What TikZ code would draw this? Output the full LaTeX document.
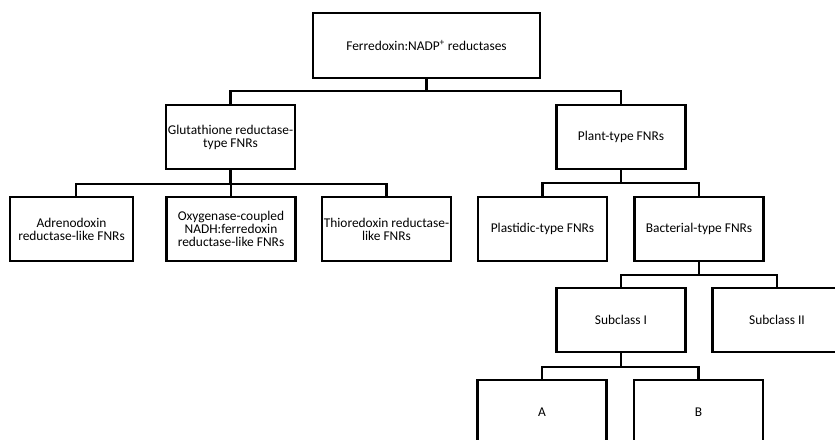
\documentclass[tikz,border=0pt]{standalone}
\usepackage{fontspec}
\setmainfont{Carlito}
\usetikzlibrary{calc}
\begin{document}
\begin{tikzpicture}[x=1pt,y=-1pt,
  box/.style={draw, line width=2.3pt, minimum width=129pt, minimum height=64pt,
    align=center, inner sep=0pt, font=\fontsize{13.4}{13}\selectfont},
  conn/.style={line width=2.3pt}]
\useasboundingbox (0,0) rectangle (835,439);
\clip (0,0) rectangle (835,439);
\node[box, minimum width=227pt, minimum height=65pt] (top) at (426.5,45.5) {Ferredoxin:NADP\textsuperscript{+} reductases};
\node[box] (glut) at (230.5,137) {Glutathione reductase-\\type FNRs};
\node[box] (plant) at (621,137) {Plant-type FNRs};
\node[box, minimum width=123pt] (adr) at (71.5,229) {Adrenodoxin\\reductase-like FNRs};
\node[box] (oxy) at (231,229) {Oxygenase-coupled\\NADH:ferredoxin\\reductase-like FNRs};
\node[box] (thio) at (386.5,229) {Thioredoxin reductase-\\like FNRs};
\node[box] (plast) at (542.5,229) {Plastidic-type FNRs};
\node[box] (bact) at (699,229) {Bacterial-type FNRs};
\node[box] (sub1) at (621,320) {Subclass I};
\node[box] (sub2) at (777,320) {Subclass II};
\node[box] (A) at (542,412) {A};
\node[box] (B) at (698.5,412) {B};
\coordinate (adrtop) at ($(adr.north)+(4.5,0)$);
% level 1
\draw[conn] (top.south) -- (top.south |- 0,91);
\draw[conn] (glut.north) -- (glut.north |- 0,91) -- (plant.north |- 0,91) -- (plant.north);
% glutathione children
\draw[conn] (glut.south) -- (glut.south |- 0,184);
\draw[conn] (adrtop) -- (adrtop |- 0,184) -- (thio.north |- 0,184) -- (thio.north);
\draw[conn] (oxy.north) -- (oxy.north |- 0,184);
% plant children
\draw[conn] (plant.south) -- (plant.south |- 0,183);
\draw[conn] (plast.north) -- (plast.north |- 0,183) -- (bact.north |- 0,183) -- (bact.north);
% bacterial children
\draw[conn] (bact.south) -- (bact.south |- 0,275);
\draw[conn] (sub1.north) -- (sub1.north |- 0,275) -- (sub2.north |- 0,275) -- (sub2.north);
% subclass I children
\draw[conn] (sub1.south) -- (sub1.south |- 0,367);
\draw[conn] (A.north) -- (A.north |- 0,367) -- (B.north |- 0,367) -- (B.north);
\end{tikzpicture}
\end{document}
